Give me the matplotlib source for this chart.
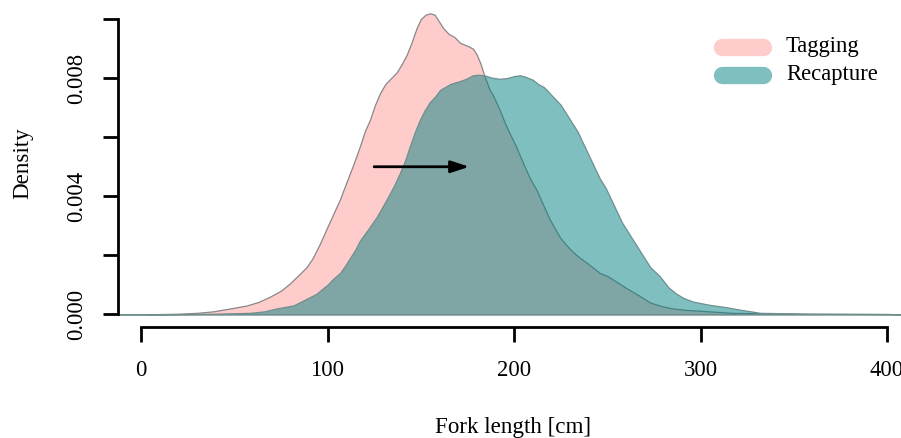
import matplotlib
matplotlib.use('Agg')
import matplotlib.pyplot as plt
from matplotlib.lines import Line2D

plt.rcParams['font.family'] = ['Liberation Serif', 'DejaVu Serif']

# density estimates (fork length in cm)
tag_x = [3, 20, 30, 38.6, 48, 56.7, 63, 69.2, 75, 79.9, 84, 88.8, 92, 96, 99.5,
         103.1, 106.7, 110.3, 114, 117.4, 120, 122.8, 125.5, 128.2, 131, 134,
         137.1, 140, 142.5, 145, 147.8, 150, 152.5, 155, 157.5, 160, 162, 165,
         168, 171, 175, 178, 180, 182, 184, 187, 188.9, 192.5, 195, 197.9, 201,
         205, 208.6, 212.2, 215.7, 219.3, 222, 224.7, 228, 231, 234, 240, 246,
         250, 255, 260, 264, 268, 273, 279, 285, 292, 300, 317, 350, 400, 410]
tag_y = [0, 0.00002, 0.00005, 0.0001, 0.0002, 0.0003, 0.00042, 0.0006, 0.0008,
         0.00105, 0.0013, 0.0016, 0.0019, 0.0024, 0.0029, 0.0034, 0.0039, 0.0045,
         0.0051, 0.0057, 0.0062, 0.0066, 0.0071, 0.0075, 0.0078, 0.0080, 0.0082,
         0.0085, 0.0088, 0.0092, 0.0097, 0.0100, 0.01015, 0.0102, 0.01015, 0.0099,
         0.0097, 0.0095, 0.0094, 0.0092, 0.0091, 0.0090, 0.0088, 0.0085, 0.0081,
         0.0076, 0.0074, 0.0069, 0.0065, 0.0061, 0.0057, 0.0051, 0.0046, 0.0042,
         0.0037, 0.0032, 0.0029, 0.0026, 0.00235, 0.00215, 0.00198, 0.0017,
         0.0014, 0.0013, 0.0011, 0.0009, 0.00075, 0.0006, 0.0004, 0.00028, 0.0002,
         0.00015, 0.00012, 0.00005, 0.00002, 0.00001, 0]

rec_x = [-12, 10, 40, 58.4, 66, 72.8, 81.7, 88, 94.2, 97, 100, 103, 106.7, 109.5,
         112, 115, 117.4, 122, 126.4, 130, 133.5, 136, 138.9, 141.5, 144.2, 147,
         149.6, 152, 155, 158, 160.3, 163, 165.7, 168, 171, 175, 178, 181, 184,
         188, 192, 196, 200, 203.2, 206, 210, 213, 216, 219, 222, 225, 228, 231,
         234, 237, 240, 243, 246, 249, 252, 255, 258, 261, 265, 269, 273, 278,
         283, 287, 291, 296, 305, 314, 320, 325, 332, 360, 400, 410]
rec_y = [0, 0, 0.00002, 0.00005, 0.0001, 0.0002, 0.0003, 0.0005, 0.0007, 0.00085,
         0.0010, 0.0012, 0.0014, 0.00165, 0.0019, 0.0022, 0.0025, 0.0029, 0.0033,
         0.0037, 0.0041, 0.0044, 0.0048, 0.0052, 0.0057, 0.0062, 0.0066, 0.0069,
         0.0072, 0.0074, 0.0076, 0.0077, 0.0078, 0.00785, 0.0079, 0.0080, 0.0081,
         0.00812, 0.0081, 0.00802, 0.00798, 0.0080, 0.00807, 0.0081, 0.00805,
         0.00795, 0.0078, 0.0077, 0.0075, 0.0073, 0.0071, 0.0068, 0.0065, 0.0062,
         0.0058, 0.0054, 0.0050, 0.0046, 0.0043, 0.0039, 0.0035, 0.0031, 0.0028,
         0.0024, 0.0020, 0.0016, 0.0013, 0.0009, 0.0007, 0.00055, 0.00043,
         0.00032, 0.00024, 0.00017, 0.00012, 0.00005, 0.00002, 0.00001, 0]

arrow_from = (125, 0.005)
arrow_to = (176, 0.005)

labels = ['Tagging', 'Recapture']
fill_cols = [(1, 0, 0, 0.2), (0, 0.5, 0.5, 0.5)]
key_cols = ['#FFCCCC', '#80BFBF']

W, H = 901, 438
fig = plt.figure(figsize=(W / 100, H / 100), dpi=100)
# axes box in pixels: left spine at x=118, x-axis line at y=327
ax = fig.add_axes([118 / W, (H - 327.3) / H, (W - 118) / W, 327.3 / H])
ax.set_xlim(-12.33, 407.5)
ax.set_ylim(-0.00044, 0.01065)

ax.fill_between(tag_x, tag_y, 0, facecolor=fill_cols[0], edgecolor='#888888',
                lw=0.9, joinstyle='round')
ax.fill_between(rec_x, rec_y, 0, facecolor=fill_cols[1], edgecolor='#6f8f8f',
                lw=0.9, joinstyle='round')

ax.annotate('', xy=arrow_to, xytext=arrow_from,
            arrowprops=dict(arrowstyle='-|>,head_length=1.1,head_width=0.36',
                            color='black', lw=2, shrinkA=0, shrinkB=0))

for s in ('top', 'right'):
    ax.spines[s].set_visible(False)
ax.spines['left'].set_bounds(0, 0.010)
ax.spines['bottom'].set_bounds(0, 400)
for s in ('left', 'bottom'):
    ax.spines[s].set_linewidth(2)

ax.set_xticks([0, 100, 200, 300, 400])
ax.set_xticklabels(['0', '100', '200', '300', '400'], fontsize=16.3)
ax.set_yticks([0, 0.002, 0.004, 0.006, 0.008, 0.010])
ax.set_yticklabels(['0.000', '', '0.004', '', '0.008', ''], fontsize=16.3,
                   rotation=90, va='center')
ax.tick_params(axis='both', length=10.5, width=2, direction='out')
ax.tick_params(axis='x', pad=13)
ax.tick_params(axis='y', pad=12)

fig.text(513 / W, 1 - 427 / H, 'Fork length [cm]', ha='center', va='center', fontsize=16.6)
fig.text(23 / W, 1 - 163 / H, 'Density', ha='center', va='center', fontsize=16.6, rotation=90)

# legend keys as rounded bars
for lab, col, yy in zip(labels, key_cols, [46.7, 74.5]):
    fig.add_artist(Line2D([722 / W, 763 / W], [1 - yy / H, 1 - yy / H],
                          transform=fig.transFigure, color=col, lw=12.5,
                          solid_capstyle='round'))
    fig.text(786 / W, 1 - yy / H, lab, ha='left', va='center', fontsize=16.3)

fig.savefig('out.png', dpi=100, facecolor='white')
